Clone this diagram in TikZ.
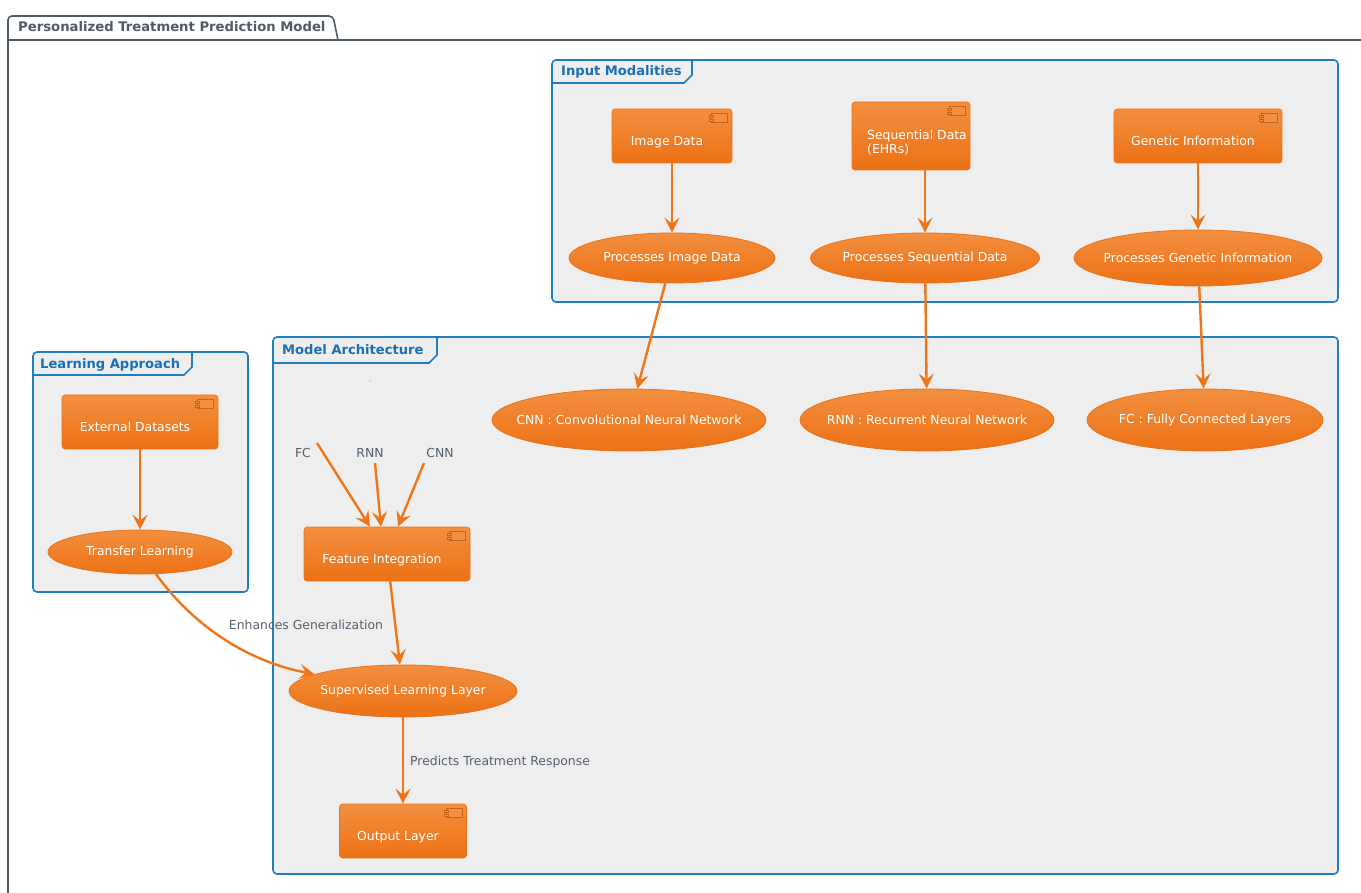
\documentclass[tikz,border=0pt]{standalone}
\usepackage{fontspec}
\setmainfont{DejaVu Sans}
\usetikzlibrary{arrows.meta,shapes.geometric,calc}
\definecolor{orgtop}{HTML}{F28F40}
\definecolor{orgbot}{HTML}{EC7114}
\definecolor{orgline}{HTML}{EE7519}
\definecolor{orgdraw}{HTML}{E9741B}
\definecolor{frameblue}{HTML}{1F7EC2}
\definecolor{titleblue}{HTML}{1C6FB3}
\definecolor{framefill}{HTML}{EEEEEE}
\definecolor{pkggray}{HTML}{4F5B69}
\definecolor{labgray}{HTML}{55606E}
\tikzset{
  txt/.style={font=\fontsize{12.4}{14}\selectfont},
  comp/.style={txt, rectangle, rounded corners=3pt, top color=orgtop, bottom color=orgbot, draw=orgdraw, line width=0.6pt, text=white, inner sep=0pt, text height=20pt, text depth=1pt},
  uc/.style={txt, ellipse, top color=orgtop, bottom color=orgbot, draw=orgdraw, line width=0.8pt, text=white, inner sep=0pt},
  frm/.style={draw=frameblue, line width=1.6pt, fill=framefill, rounded corners=4pt},
  frmtab/.style={draw=frameblue, line width=1.6pt},
  frmtitle/.style={font=\fontsize{13.1}{15}\selectfont\bfseries, text=titleblue, anchor=west, inner sep=0pt},
  arr/.style={draw=orgline, line width=2.4pt, -{Stealth[length=15pt,width=15pt,inset=6pt]}},
  elab/.style={txt, text=labgray, inner sep=0pt},
  icon/.style={draw=orgdraw!85!black, line width=0.6pt, fill=orgtop}
}
\newcommand\uct[1]{\makebox[0pt][c]{#1}}
\newcommand\cpt[1]{#1\hspace*{10pt}}
\newcommand\compicon[1]{%
  \draw[icon] ($(#1.north east)+(-21,5)$) rectangle ($(#1.north east)+(-5,14)$);
  \draw[icon] ($(#1.north east)+(-23,7)$) rectangle ($(#1.north east)+(-19,9)$);
  \draw[icon] ($(#1.north east)+(-23,10.5)$) rectangle ($(#1.north east)+(-19,12.5)$);
}
\begin{document}
\begin{tikzpicture}[x=1pt,y=-1pt]
\useasboundingbox (0,0) rectangle (1361,893);
\clip (0,0) rectangle (1361,893);
% outer package
\draw[draw=pkggray, line width=1.6pt, fill=white, rounded corners=4pt] (8,910) -- (8,16) -- (333,16) -- (338,40);
\draw[draw=pkggray, line width=1.6pt] (8,40) -- (1375,40);
\draw[draw=pkggray, line width=1.6pt] (8,40) -- (8,910);
\node[font=\fontsize{13.2}{15}\selectfont\bfseries, text=pkggray, anchor=west, inner sep=0pt] (pkgtitle) at (18,27) {Personalized Treatment Prediction Model};

% frames
\draw[frm] (552,60) rectangle (1338,302);
\draw[frmtab] (552,83) -- (684,83) -- (692,75) -- (692,60);
\node[frmtitle] (imtitle) at (561,72) {Input Modalities};

\draw[frm] (273,337) rectangle (1338,874);
\draw[frmtab] (273,363) -- (429,363) -- (437,355) -- (437,337);
\node[frmtitle] (matitle) at (282,350) {Model Architecture};

\draw[frm] (33,352) rectangle (248,592);
\draw[frmtab] (33,375) -- (184,375) -- (192,367) -- (192,352);
\node[frmtitle] (latitle) at (40,365) {Learning Approach};

% components
\node[comp, minimum width=120pt, minimum height=54pt] (img) at (672,136) {\cpt{Image Data}};
\node[comp, minimum width=118pt, minimum height=68pt] (seq) at (911,136) {};
\node[txt, text=white, align=left, anchor=west, inner sep=0pt] (seqtxt) at (867,143) {Sequential Data\\(EHRs)};
\node[comp, minimum width=168pt, minimum height=54pt] (gen) at (1198,136) {\cpt{Genetic Information}};
\node[comp, minimum width=156pt, minimum height=54pt] (ext) at (140,422) {\cpt{External Datasets}};
\node[comp, minimum width=166pt, minimum height=54pt] (fi) at (387,554) {\cpt{Feature Integration}};
\node[comp, minimum width=127pt, minimum height=54pt] (out) at (403,831) {\cpt{Output Layer}};
\foreach \n in {img,seq,gen,ext,fi,out} {\compicon{\n}}

% use cases
\node[uc, minimum width=206pt, minimum height=50pt] (pimg) at (672,258) {\uct{Processes Image Data}};
\node[uc, minimum width=229pt, minimum height=50pt] (pseq) at (925,258) {\uct{Processes Sequential Data}};
\node[uc, minimum width=248pt, minimum height=56pt] (pgen) at (1198,258) {\uct{Processes Genetic Information}};
\node[uc, minimum width=274pt, minimum height=62pt] (cnn) at (629,420) {\uct{CNN : Convolutional Neural Network}};
\node[uc, minimum width=254pt, minimum height=62pt] (rnn) at (927,420) {\uct{RNN : Recurrent Neural Network}};
\node[uc, minimum width=236pt, minimum height=62pt] (fc) at (1205,420) {\uct{FC : Fully Connected Layers}};
\node[uc, minimum width=184pt, minimum height=44pt] (tl) at (140,552) {\uct{Transfer Learning}};
\node[uc, minimum width=228pt, minimum height=52pt] (sl) at (403,691) {\uct{Supervised Learning Layer}};

% small dot and labels
\node[circle, fill=orgline, inner sep=0pt, minimum size=1.2pt] (dot) at (370,381) {};
\node[elab] (fclab) at (303,453) {FC};
\node[elab] (rnnlab) at (370,453) {RNN};
\node[elab] (cnnlab) at (440,453) {CNN};
\coordinate (fcs) at (317,443);
\coordinate (rnns) at (375,463);
\coordinate (cnns) at (424,463);

% edges
\draw[arr] (img) -- (pimg);
\draw[arr] (pseq.north |- seq.south) -- (pseq.north);
\draw[arr] (gen) -- (pgen);
\draw[arr] (pimg) -- (cnn);
\draw[arr] (pseq) -- (rnn);
\draw[arr] (pgen) -- (fc);
\draw[arr] (ext) -- (tl);
\draw[arr] (fcs) -- ($(fi.north)+(-17,0)$);
\draw[arr] (rnns) -- ($(fi.north)+(-6,0)$);
\draw[arr] (cnns) -- ($(fi.north)+(11,0)$);
\draw[arr] (fi) -- (sl);
\draw[arr] (tl) .. controls (195,628) and (250,662) .. (sl);
\node[elab] (enh) at (306,625) {Enhances Generalization};
\draw[arr] (sl) -- (out);
\node[elab, anchor=west] (pred) at (410,762) {Predicts Treatment Response};
\end{tikzpicture}
\end{document}
